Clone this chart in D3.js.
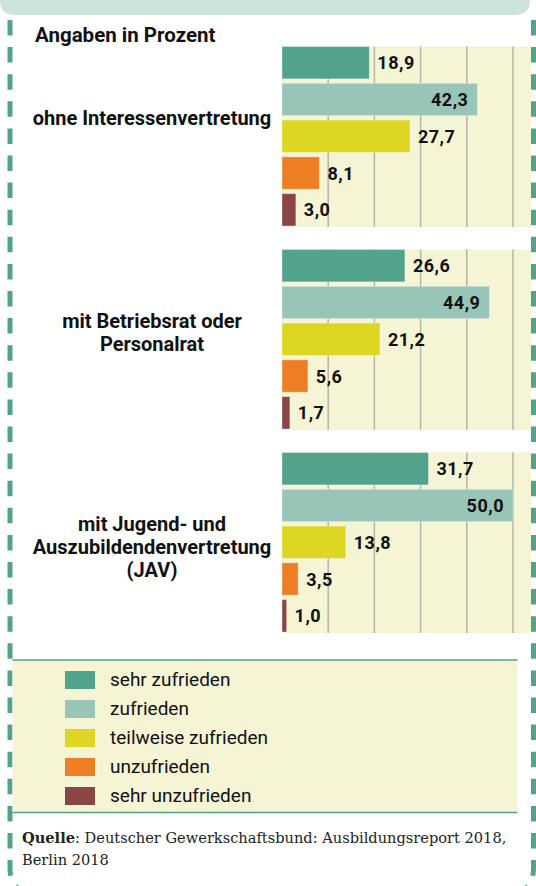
<html>
<head>
	<meta charset='utf-8' />
	<title>Zufriedenheit nach Interessenvertretung</title>
	<script src="https://cdn.jsdelivr.net/npm/d3@7/dist/d3.min.js"></script>
	<style>
	body { margin: 0; background: #fff; }
	svg { display: block; }
	.lbl { font-family: Roboto, sans-serif; font-weight: 700; fill: #111; }
	.leg { font-family: Roboto, sans-serif; font-weight: 400; fill: #111; }
	.src { font-family: "DejaVu Serif", serif; fill: #222; }
	</style>
</head>
<body>
<script>

	// data
	var groupLines = [["ohne Interessenvertretung"], ["mit Betriebsrat oder", "Personalrat"], ["mit Jugend- und", "Auszubildendenvertretung", "(JAV)"]];
	var groups = ["ohne", "betriebsrat", "jav"];
	var categories = ["sehr zufrieden", "zufrieden", "teilweise zufrieden", "unzufrieden", "sehr unzufrieden"];
	var ohneVals = [18.9, 42.3, 27.7, 8.1, 3.0];
	var betriebsratVals = [26.6, 44.9, 21.2, 5.6, 1.7];
	var javVals = [31.7, 50.0, 13.8, 3.5, 1.0];
	var gridTicks = [10, 20, 30, 40, 50];
	var colors = ["#52a38c", "#98c5b8", "#ddd623", "#ee7e23", "#8b4546"];

	var allVals = [ohneVals, betriebsratVals, javVals];

	var width = 536, height = 886;

	var svg = d3.select("body").append("svg")
		.attr("width", width)
		.attr("height", height);

	var de = d3.formatLocale({decimal: ",", thousands: ".", grouping: [3], currency: ["", " €"]});
	var fmt = de.format(".1f");

	var xScale = d3.scaleLinear().domain([0, 50]).range([282, 513]);
	var groupScale = d3.scaleBand().domain(groups).range([46.5, 632]).paddingInner(0.1158);
	var barScale = d3.scaleBand().domain(categories).range([0, groupScale.bandwidth()]).paddingInner(0.12);
	var colorScale = d3.scaleOrdinal().domain(categories).range(colors);

	// banner on top (title cut off)
	svg.append("path")
		.attr("fill", "#cfe3de")
		.attr("d", "M-20,-10 L530,-10 L530,0 Q530,15 515,15 L15,15 Q0,15 0,0 Z");

	// dashed frame
	var frame = svg.append("g")
		.attr("fill", "none")
		.attr("stroke", "#52a38c")
		.attr("stroke-width", 5)
		.attr("stroke-dasharray", "15.5 11.6");
	frame.append("path").attr("d", "M10,20 L10,868 Q10,893 35,893 L272,893");
	frame.append("path").attr("d", "M533.5,20 L533.5,868 Q533.5,893 508.5,893 L272,893");

	svg.append("text")
		.attr("class", "lbl")
		.attr("x", 35)
		.attr("y", 42)
		.attr("font-size", "20.5px")
		.text("Angaben in Prozent");

	groups.forEach(function(g, gi) {
		var top = groupScale(g);
		var gg = svg.append("g").attr("transform", "translate(0," + top + ")");

		gg.append("rect")
			.attr("x", 282)
			.attr("y", 0)
			.attr("width", 531 - 282)
			.attr("height", groupScale.bandwidth() + 1)
			.attr("fill", "#f5f5d5");

		gg.selectAll(".grid").data(gridTicks).enter().append("line")
			.attr("class", "grid")
			.attr("x1", d => xScale(d))
			.attr("x2", d => xScale(d))
			.attr("y1", 0)
			.attr("y2", groupScale.bandwidth() + 1)
			.attr("stroke", "#b5b5a8")
			.attr("stroke-width", 1.5);

		var rows = categories.map((c, i) => ({cat: c, val: allVals[gi][i]}));

		gg.selectAll(".bar").data(rows).enter().append("rect")
			.attr("class", "bar")
			.attr("x", xScale(0))
			.attr("y", d => barScale(d.cat))
			.attr("width", d => xScale(d.val) - xScale(0))
			.attr("height", barScale.bandwidth())
			.attr("fill", d => colorScale(d.cat))
			.attr("stroke", "rgba(255,255,255,0.35)")
			.attr("stroke-width", 1);

		gg.selectAll(".val").data(rows).enter().append("text")
			.attr("class", "lbl val")
			.attr("font-size", "18px")
			.attr("letter-spacing", "0.5px")
			.attr("x", d => d.val > 40 ? xScale(d.val) - 9 : xScale(d.val) + 8)
			.attr("y", d => barScale(d.cat) + barScale.bandwidth() / 2 + 6.5)
			.attr("text-anchor", d => d.val > 40 ? "end" : "start")
			.text(d => fmt(d.val));

		var t = gg.append("text")
			.attr("class", "lbl")
			.attr("font-size", "20px")
			.attr("text-anchor", "middle");
		groupLines[gi].forEach(function(line, li) {
			t.append("tspan")
				.attr("x", 152)
				.attr("y", 78.5 + li * 23)
				.text(line);
		});
	});

	// legend
	var legTop = 660, legBottom = 812.5;
	svg.append("rect")
		.attr("x", 12.5)
		.attr("y", legTop)
		.attr("width", 505)
		.attr("height", legBottom - legTop)
		.attr("fill", "#f5f5d5");
	[legTop, legBottom].forEach(function(y) {
		svg.append("line")
			.attr("x1", 12.5).attr("x2", 517.5)
			.attr("y1", y).attr("y2", y)
			.attr("stroke", "#52a38c")
			.attr("stroke-width", 1.5);
	});

	var legScale = d3.scaleBand().domain(categories).range([671, 671 + 29 * 5]);
	var leg = svg.selectAll(".legitem").data(categories).enter().append("g")
		.attr("class", "legitem")
		.attr("transform", d => "translate(0," + legScale(d) + ")");
	leg.append("rect")
		.attr("x", 65)
		.attr("y", 0)
		.attr("width", 30)
		.attr("height", 18)
		.attr("fill", d => colorScale(d));
	leg.append("text")
		.attr("class", "leg")
		.attr("x", 110)
		.attr("y", 15)
		.attr("font-size", "19px")
		.text(d => d);

	// source
	var src = svg.append("text")
		.attr("class", "src")
		.attr("font-size", "14.6px");
	var l1 = src.append("tspan").attr("x", 22).attr("y", 843);
	l1.append("tspan").attr("font-weight", "700").text("Quelle");
	l1.append("tspan").text(": Deutscher Gewerkschaftsbund: Ausbildungsreport 2018,");
	src.append("tspan").attr("x", 22).attr("y", 865).text("Berlin 2018");

</script>
</body>
</html>
